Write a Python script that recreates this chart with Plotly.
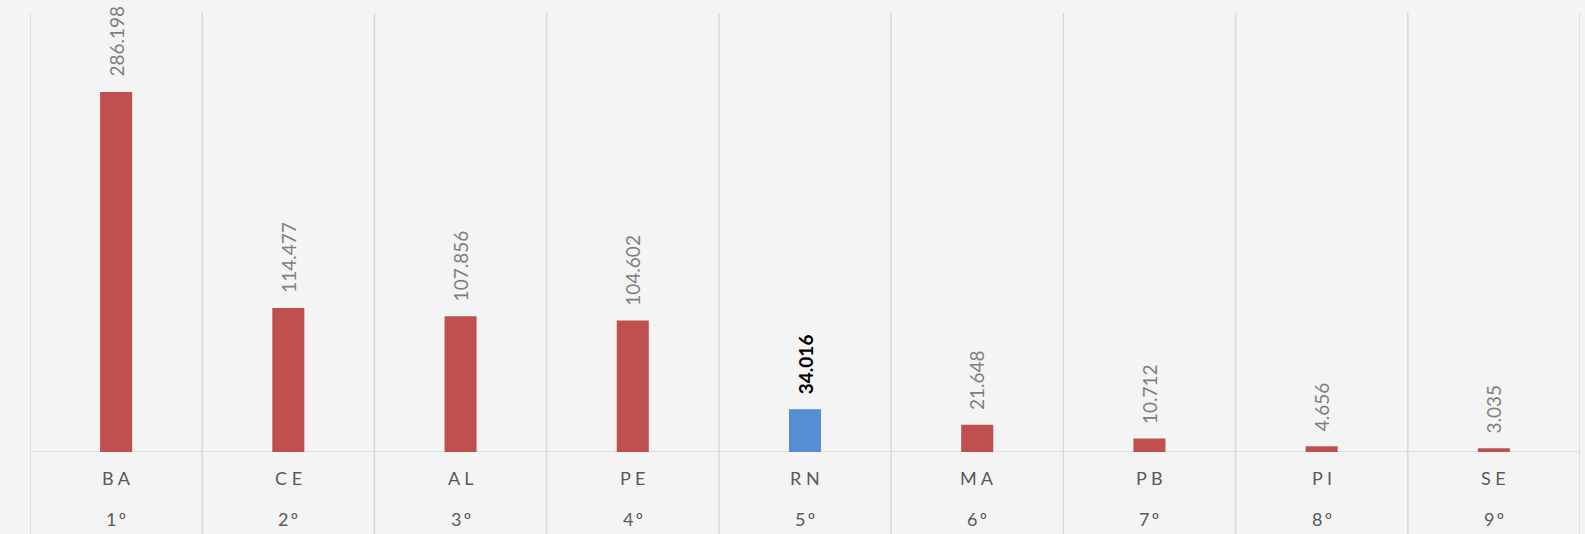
import plotly.graph_objects as go

states = ["BA", "CE", "AL", "PE", "RN", "MA", "PB", "PI", "SE"]
ranks = ["1º", "2º", "3º", "4º", "5º", "6º", "7º", "8º", "9º"]
values = [286.198, 114.477, 107.856, 104.602, 34.016, 21.648, 10.712, 4.656, 3.035]
highlight = "RN"

RED = "#c0504d"
BLUE = "#558ed5"
GRID = "#d9d9d9"
BG = "#f4f4f4"
FONT = "Lato"

x = list(range(len(states)))
colors = [BLUE if s == highlight else RED for s in states]

fig = go.Figure()
fig.add_trace(go.Bar(x=x, y=values, marker=dict(color=colors, line=dict(width=0)),
                     width=0.186, hoverinfo="skip"))

def fmt(v):
    return f"{v:.3f}"

annotations = []
for i, (s, r, v) in enumerate(zip(states, ranks, values)):
    bold = s == highlight
    annotations.append(dict(
        x=i, y=v, xref="x", yref="y", text=("<b>%s</b>" % fmt(v)) if bold else fmt(v),
        textangle=-90, showarrow=False, yanchor="bottom", xanchor="center", yshift=13,
        font=dict(family=FONT, size=19, color="#000000" if bold else "#7f7f7f")))
    annotations.append(dict(
        x=i, y=-0.059, xref="x", yref="paper", text=" ".join(s),
        showarrow=False, yanchor="middle", xanchor="center",
        font=dict(family=FONT, size=18, color="#595959")))
    annotations.append(dict(
        x=i, y=-0.153, xref="x", yref="paper", text="\u2009".join(r),
        showarrow=False, yanchor="middle", xanchor="center",
        font=dict(family=FONT, size=18, color="#595959")))

shapes = []
for k in range(len(states) + 1):
    shapes.append(dict(type="line", xref="x", yref="paper", x0=k - 0.5, x1=k - 0.5,
                       y0=-0.3, y1=1, line=dict(color=GRID, width=1.5), layer="below"))
shapes.append(dict(type="line", xref="paper", yref="y", x0=0, x1=1, y0=0, y1=0,
                   line=dict(color=GRID, width=1.5), layer="below"))

fig.update_layout(
    width=1585, height=534,
    margin=dict(l=30, r=5, t=13, b=82),
    paper_bgcolor=BG, plot_bgcolor=BG,
    showlegend=False,
    xaxis=dict(range=[-0.5, len(states) - 0.5], showticklabels=False, showgrid=False,
               zeroline=False, showline=False, fixedrange=True),
    yaxis=dict(range=[0, 349], visible=False, showgrid=False, zeroline=False),
    annotations=annotations,
    shapes=shapes,
)

fig.write_html(
    "out.html",
    config={"displayModeBar": False, "staticPlot": True},
    post_script="document.body.style.margin='0';document.body.style.overflow='hidden';"
                "document.body.style.background='%s';" % BG,
)
